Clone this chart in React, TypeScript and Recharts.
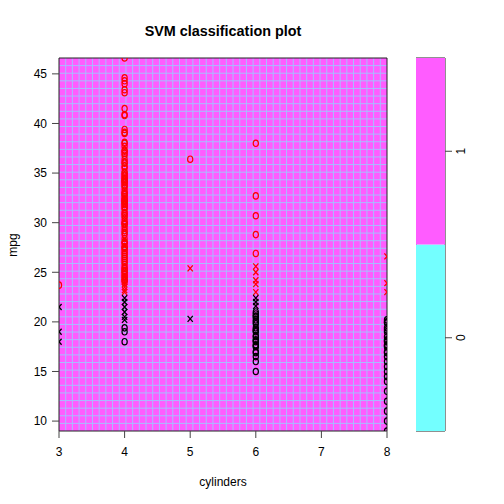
import React from "react"
import { ScatterChart, Scatter, XAxis, YAxis, CartesianGrid, ReferenceArea, BarChart, Bar } from "recharts"

// x = cylinders, y = mpg. red = class 1, black = class 0; "x" = support vector, "o" = other
const cylinderTicks = [3, 4, 5, 6, 7, 8]
const mpgTicks = [10, 15, 20, 25, 30, 35, 40, 45]
const classLabels = ["0", "1"]

const redO3 = [23.7]
const blackX3 = [21.5, 19.0, 18.0]

const redO4 = [
  46.6, 44.6, 44.3, 44.0, 43.4, 43.1, 41.5, 40.9, 40.8, 39.4, 39.1, 39.0, 38.1, 38.0, 37.7, 37.3, 37.2,
  37.0, 36.8, 36.4, 36.1, 36.0, 35.7, 35.5, 35.1, 35.0, 34.8, 34.7, 34.5, 34.4, 34.3, 34.2, 34.1, 34.0,
  33.8, 33.7, 33.5, 33.2, 33.0, 32.9, 32.8, 32.6, 32.4, 32.3, 32.2, 32.1, 32.0, 31.9, 31.8, 31.6, 31.5,
  31.3, 31.0, 30.9, 30.7, 30.5, 30.2, 30.0, 29.9, 29.8, 29.5, 29.2, 29.0, 28.8, 28.4, 28.1, 28.0, 27.9,
  27.6, 27.5, 27.4, 27.2, 27.0, 26.8, 26.6, 26.4, 26.2, 26.0, 25.8, 25.5, 25.4, 25.2, 25.1, 25.0, 24.8,
  24.6, 24.5, 24.3, 24.2, 24.0,
]
const redX4 = [24.5, 24.0, 23.8, 23.5, 23.2, 23.0]
const blackX4 = [22.4, 22.0, 21.5, 21.0, 20.5, 20.2]
const blackO4 = [19.4, 19.0, 18.0]

const redO5 = [36.4]
const redX5 = [25.4]
const blackX5 = [20.3]

const redO6 = [38.0, 32.7, 30.7, 28.8, 26.9]
const redX6 = [25.6, 25.0, 24.2, 23.8, 23.0]
const blackX6 = [22.4, 22.0, 21.6]
const blackO6 = [
  21.0, 20.8, 20.6, 20.5, 20.2, 20.0, 19.8, 19.4, 19.2, 19.1, 19.0, 18.6, 18.5, 18.2, 18.1, 18.0, 17.7,
  17.6, 17.5, 17.0, 16.9, 16.5, 16.0, 15.0,
]

const redX8 = [26.6, 23.9, 23.0]
const blackO8 = [
  20.2, 20.0, 19.9, 19.4, 19.2, 19.0, 18.5, 18.2, 18.1, 18.0, 17.7, 17.6, 17.5, 17.0, 16.9, 16.5, 16.0,
  15.5, 15.0, 14.5, 14.0, 13.0, 12.0, 11.0, 10.0, 9.0,
]

const pts = (cyl: number, vals: number[]) => vals.map((mpg) => ({ cyl, mpg }))

const redO = [...pts(3, redO3), ...pts(4, redO4), ...pts(5, redO5), ...pts(6, redO6)]
const redX = [...pts(4, redX4), ...pts(5, redX5), ...pts(6, redX6), ...pts(8, redX8)]
const blackO = [...pts(4, blackO4), ...pts(6, blackO6), ...pts(8, blackO8)]
const blackX = [...pts(3, blackX3), ...pts(4, blackX4), ...pts(5, blackX5), ...pts(6, blackX6)]

const keyData = [{ name: "key", c0: 1, c1: 1 }]

const PINK = "#FF5CFF"
const CYAN = "#73FFFF"
const GRIDLINE = "#a8bcff"
const FONT = "'Liberation Sans', Arial, Helvetica, sans-serif"

const circle = (color: string) => (p: any) => (
  <ellipse cx={p.cx} cy={p.cy} rx={2.6} ry={3.2} fill="none" stroke={color} strokeWidth={1.2} />
)
const cross = (color: string) => (p: any) => (
  <path
    d={`M${p.cx - 2.6},${p.cy - 3} L${p.cx + 2.6},${p.cy + 3} M${p.cx + 2.6},${p.cy - 3} L${p.cx - 2.6},${p.cy + 3}`}
    stroke={color}
    strokeWidth={1.3}
    fill="none"
  />
)

const gridCount = 49
const vGen = ({ offset }: any) =>
  Array.from({ length: gridCount - 1 }, (_, k) => offset.left + ((k + 1) * offset.width) / gridCount)
const hGen = ({ offset }: any) =>
  Array.from({ length: gridCount - 1 }, (_, k) => offset.top + ((k + 1) * offset.height) / gridCount)

const KeyTick = (p: any) => (
  <text
    x={p.x + 3}
    y={p.y}
    transform={`rotate(-90 ${p.x + 3} ${p.y})`}
    textAnchor="middle"
    fontSize={12}
    fontFamily={FONT}
    fill="#000"
  >
    {classLabels[Math.round(p.payload.value - 0.5)]}
  </text>
)

export default function App() {
  const tickStyle = { fontSize: 12, fontFamily: FONT, fill: "#000" }
  return (
    <div style={{ position: "absolute", left: 0, top: 0, width: 504, height: 504, background: "#fff" }}>
      <ScatterChart width={504} height={504} margin={{ top: 58, right: 117, bottom: 0, left: 0 }}>
        <CartesianGrid
          fill={PINK}
          fillOpacity={1}
          stroke={GRIDLINE}
          strokeWidth={1}
          verticalCoordinatesGenerator={vGen}
          horizontalCoordinatesGenerator={hGen}
        />
        <XAxis
          type="number"
          dataKey="cyl"
          domain={[3, 8]}
          ticks={cylinderTicks}
          allowDataOverflow
          height={73}
          axisLine={false}
          tickSize={7}
          tickMargin={9}
          tickLine={{ stroke: "#444" }}
          tick={tickStyle}
        />
        <YAxis
          type="number"
          dataKey="mpg"
          domain={[9, 46.6]}
          ticks={mpgTicks}
          allowDataOverflow
          width={59}
          axisLine={false}
          tickSize={7}
          tickMargin={5}
          tickLine={{ stroke: "#444" }}
          tick={tickStyle}
        />
        <Scatter data={redO} shape={circle("#FF0000")} isAnimationActive={false} />
        <Scatter data={redX} shape={cross("#FF0000")} isAnimationActive={false} />
        <Scatter data={blackO} shape={circle("#000000")} isAnimationActive={false} />
        <Scatter data={blackX} shape={cross("#000000")} isAnimationActive={false} />
        <ReferenceArea x1={3} x2={8} y1={9} y2={46.6} fill="none" stroke="#222" strokeWidth={1} />
      </ScatterChart>

      <div style={{ position: "absolute", left: 416, top: 0 }}>
        <BarChart width={88} height={504} data={keyData} margin={{ top: 58, right: 0, bottom: 73, left: 0 }} barCategoryGap={0}>
          <XAxis dataKey="name" hide />
          <YAxis
            orientation="right"
            type="number"
            domain={[0, 2]}
            ticks={[0.5, 1.5]}
            width={59}
            axisLine={false}
            tickSize={7}
            tickMargin={10}
            tickLine={{ stroke: "#444" }}
            tick={<KeyTick />}
          />
          <Bar dataKey="c0" stackId="k" fill={CYAN} isAnimationActive={false} />
          <Bar dataKey="c1" stackId="k" fill={PINK} isAnimationActive={false} />
          <ReferenceArea y1={0} y2={2} fill="none" stroke="#222" strokeWidth={1} />
        </BarChart>
      </div>

      <svg width={504} height={504} style={{ position: "absolute", left: 0, top: 0, pointerEvents: "none" }}>
        <text x={223} y={36} textAnchor="middle" fontSize={14.4} fontWeight="bold" fontFamily={FONT}>
          SVM classification plot
        </text>
        <text x={223} y={486} textAnchor="middle" fontSize={12} fontFamily={FONT}>
          cylinders
        </text>
        <text x={17} y={245} textAnchor="middle" fontSize={12} fontFamily={FONT} transform="rotate(-90 17 245)">
          mpg
        </text>
      </svg>
    </div>
  )
}
